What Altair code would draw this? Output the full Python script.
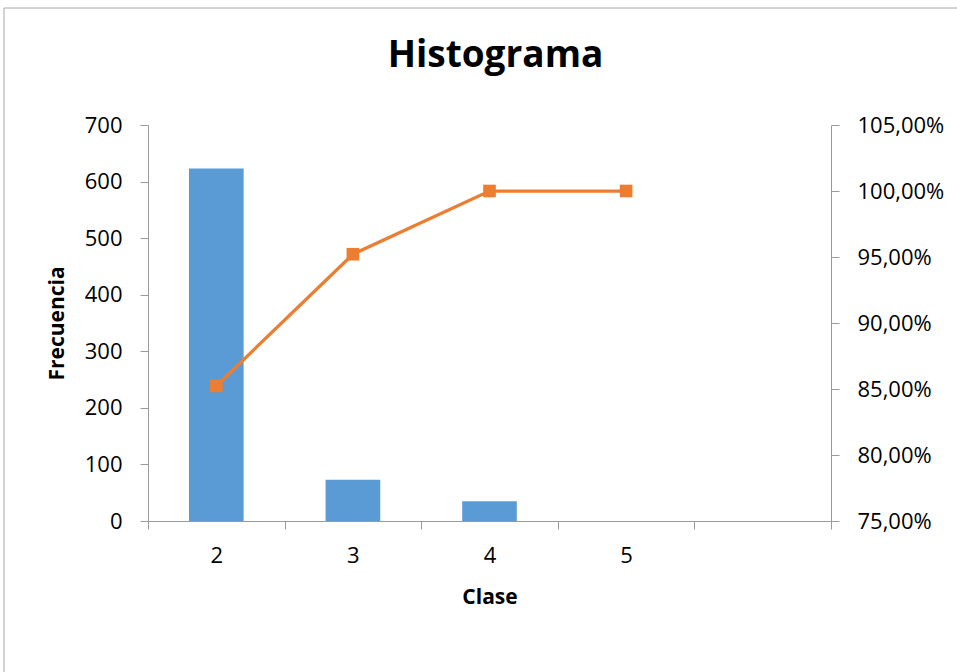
import altair as alt
import pandas as pd

# Data
clases = ["2", "3", "4", "5", ""]
frecuencia = [623, 73, 35, 0, 0]
clases_acum = ["2", "3", "4", "5"]
porcentaje_acum = [0.8523, 0.9521, 1.0, 1.0]

bars_df = pd.DataFrame({"Clase": clases, "Frecuencia": frecuencia})
line_df = pd.DataFrame({"Clase": clases_acum, "Acumulado": porcentaje_acum})
frame_df = pd.DataFrame({"a": [0]})

FONT = "Open Sans, sans-serif"
GRAY = "#9a9a9a"

x_enc = alt.X(
    "Clase:N",
    sort=clases,
    scale=alt.Scale(domain=clases, paddingInner=0, paddingOuter=0),
    axis=alt.Axis(
        title="Clase",
        labelAngle=0,
        tickBand="extent",
        tickSize=8,
        labelPadding=16,
        titleX=341.5,
        titleY=76,
        titleBaseline="middle",
        titleAlign="center",
    ),
)

frame = alt.Chart(frame_df).mark_rect(
    fill=None, stroke="#a6a6a6", strokeWidth=1
).encode(
    x=alt.value(-144), x2=alt.value(830), y=alt.value(-117), y2=alt.value(560)
)

bars = alt.Chart(bars_df).mark_bar(
    color="#5B9BD5", width=alt.RelativeBandSize(0.4)
).encode(
    x=x_enc,
    y=alt.Y(
        "Frecuencia:Q",
        scale=alt.Scale(domain=[0, 700], nice=False),
        axis=alt.Axis(
            orient="left",
            values=[0, 100, 200, 300, 400, 500, 600, 700],
            grid=False,
            tickSize=8,
            labelPadding=18,
            title="Frecuencia",
            titleX=-91,
            titleY=198,
            titleAngle=-90,
            titleBaseline="middle",
            titleAlign="center",
        ),
    ),
)

line = alt.Chart(line_df).mark_line(
    color="#ED7D31", strokeWidth=3.25,
    point=alt.OverlayMarkDef(shape="square", size=160, color="#ED7D31", filled=True, opacity=1),
).encode(
    x=alt.X("Clase:N", sort=clases),
    y=alt.Y(
        "Acumulado:Q",
        scale=alt.Scale(domain=[0.75, 1.05], nice=False, zero=False),
        axis=alt.Axis(
            orient="right",
            values=[0.75, 0.8, 0.85, 0.9, 0.95, 1.0, 1.05],
            labelExpr="replace(format(datum.value, '.2%'), '.', ',')",
            grid=False,
            tickSize=8,
            labelPadding=18,
            title=None,
        ),
    ),
)

chart = alt.layer(frame, bars, line).resolve_scale(
    y="independent"
).properties(
    width=683,
    height=396,
    autosize=alt.AutoSizeParams(type="none"),
    padding={"left": 148, "top": 125, "right": 126, "bottom": 151},
    title=alt.TitleParams(
        "Histograma", font=FONT, fontSize=37, fontWeight="bold", color="#000000",
        anchor="middle", offset=0, baseline="alphabetic", dy=96, dx=6,
    ),
).configure_view(
    stroke=None
).configure_axis(
    domainColor=GRAY,
    tickColor=GRAY,
    labelFont=FONT,
    labelFontSize=22,
    labelColor="#000000",
    titleFont=FONT,
    titleFontSize=21,
    titleFontWeight="bold",
    titleColor="#000000",
)

chart.save("out.html", embed_options={"renderer": "svg", "actions": False})
